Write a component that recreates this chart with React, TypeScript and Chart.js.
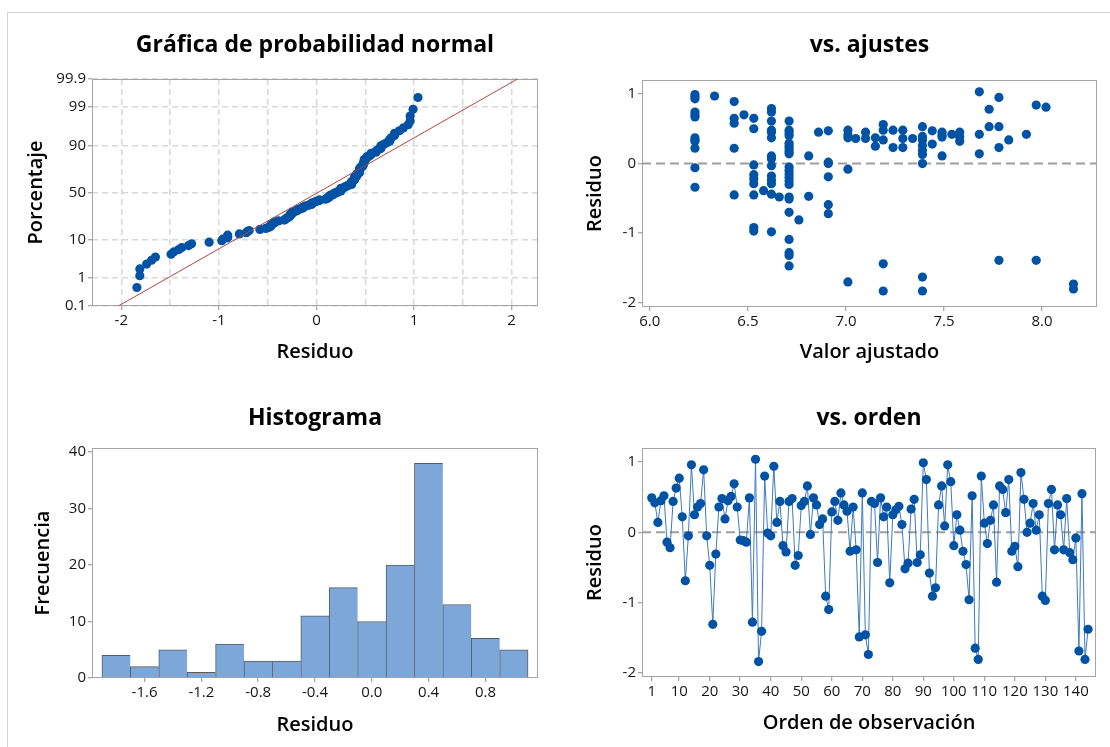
import React, { useEffect, useRef } from "react";
import { Chart, registerables } from "chart.js";

Chart.register(...registerables);

// ---------------- data ----------------
// residuals in observation order (1..144)
const residuals: number[] = [
  0.49, 0.42, 0.14, 0.45, 0.52, -0.14, -0.22, 0.44, 0.63, 0.77,
  0.22, -0.69, -0.05, 0.96, 0.25, 0.36, 0.41, 0.89, -0.05, -0.47,
  -1.31, -0.31, 0.36, 0.48, 0.19, 0.45, 0.51, 0.69, 0.36, -0.11,
  -0.12, -0.14, 0.49, -1.28, 1.04, -1.84, -1.41, 0.8, -0.01, -0.05,
  0.94, 0.14, 0.44, -0.19, -0.28, 0.44, 0.48, -0.47, -0.33, 0.38,
  0.44, 0.66, -0.03, 0.49, 0.39, 0.11, 0.19, -0.91, -1.1, 0.29,
  0.44, 0.17, 0.56, 0.39, 0.3, -0.27, 0.36, -0.25, -1.49, 0.56,
  -1.46, -1.74, 0.44, 0.41, -0.43, 0.49, 0.22, 0.36, -0.72, 0.25,
  0.32, 0.37, 0.11, -0.52, -0.44, 0.33, 0.47, -0.43, -0.32, 0.99,
  0.75, -0.58, -0.91, -0.79, 0.39, 0.66, 0.09, 0.96, 0.72, -0.19,
  0.25, 0.03, -0.27, -0.46, -0.96, 0.52, -1.65, -1.81, 0.8, 0.13,
  -0.16, 0.17, 0.39, -0.71, 0.66, 0.61, 0.28, 0.75, -0.27, -0.2,
  -0.49, 0.85, 0.47, 0.0, 0.13, 0.41, 0.03, 0.25, -0.91, -0.97,
  0.41, 0.61, -0.25, 0.39, 0.25, -0.25, 0.48, -0.29, -0.39, -0.08,
  -1.69, 0.55, -1.81, -1.38,
];

// vs. fits: fitted value levels and the residuals plotted at each level
const fitLevels: number[] = [
  6.23, 6.33, 6.43, 6.48, 6.53, 6.58, 6.62, 6.66, 6.71, 6.76, 6.81, 6.86,
  6.91, 7.01, 7.05, 7.1, 7.15, 7.19, 7.24, 7.29, 7.34, 7.39, 7.44, 7.49,
  7.54, 7.58, 7.68, 7.73, 7.78, 7.83, 7.92, 7.97, 8.02, 8.16,
];
const fitResidualsByLevel: number[][] = [
  [0.99, 0.96, 0.93, 0.74, 0.7, 0.67, 0.37, 0.34, 0.32, 0.22, -0.06, -0.34],
  [0.97],
  [0.89, 0.65, 0.58, 0.22, -0.45],
  [0.7],
  [0.65, 0.5, -0.02, -0.16, -0.22, -0.29, -0.45, -0.92, -0.97],
  [-0.39],
  [0.79, 0.74, 0.61, 0.48, 0.45, 0.37, 0.11, 0.07, -0.03, -0.18, -0.24, -0.29, -0.44, -0.98],
  [-0.48],
  [0.61, 0.48, 0.44, 0.4, 0.29, 0.25, 0.21, 0.17, 0.14, -0.05, -0.1, -0.15, -0.2, -0.25, -0.3, -0.48, -0.51, -0.7, -1.09, -1.28, -1.32, -1.47],
  [-0.81],
  [0.11, -0.47],
  [0.45],
  [0.47, 0.02, 0.0, -0.19, -0.59, -0.72],
  [0.48, 0.41, 0.37, -0.08, -1.7],
  [0.36],
  [0.45, 0.36],
  [0.37, 0.25],
  [0.56, 0.48, 0.34, -1.44, -1.83],
  [0.48, 0.23],
  [0.48, 0.36, 0.23],
  [0.36],
  [0.53, 0.39, 0.34, 0.26, 0.19, 0.13, 0.0, -1.63, -1.83],
  [0.47, 0.28],
  [0.45, 0.41, 0.38, 0.11],
  [0.42],
  [0.45, 0.38, 0.32],
  [1.03, 0.42, 0.14],
  [0.78, 0.53],
  [0.95, 0.53, 0.23, -1.39],
  [0.34],
  [0.42],
  [0.84, -1.39],
  [0.81],
  [-1.73, -1.8],
];

// histogram
const histBinCenters: number[] = [-1.8, -1.6, -1.4, -1.2, -1.0, -0.8, -0.6, -0.4, -0.2, 0.0, 0.2, 0.4, 0.6, 0.8, 1.0];
const histCounts: number[] = [4, 2, 5, 1, 6, 3, 3, 11, 16, 10, 20, 38, 13, 7, 5];

// normal reference line of the probability plot (residual at 0.1 % and 99.9 %)
const refLineResidual: number[] = [-2.03, 2.06];
const refLinePercent: number[] = [0.1, 99.9];

// tick values / labels
const probPercentTicks: number[] = [0.1, 1, 10, 50, 90, 99, 99.9];
const probXTicks: number[] = [-2, -1.5, -1, -0.5, 0, 0.5, 1, 1.5, 2];
const fitXTicks: number[] = [6.0, 6.5, 7.0, 7.5, 8.0];
const residTicks: number[] = [-2, -1, 0, 1];
const orderTicks: number[] = [1, 10, 20, 30, 40, 50, 60, 70, 80, 90, 100, 110, 120, 130, 140];
const histXTicks: number[] = [-1.6, -1.2, -0.8, -0.4, 0.0, 0.4, 0.8];
const histYTicks: number[] = [0, 10, 20, 30, 40];

// ---------------- style ----------------
const FONT = "'Open Sans', 'Noto Sans', sans-serif";
const TEXT = "#151515";
const FRAME_COLOR = "#a4a4a4";
const TICK_COLOR = "#8c8c8c";
const POINT_COLOR = "#0053a4";
const ORDER_LINE = "#3d79c2";
const REF_DASH = "#9e9e9e";
const FIT_LINE = "#b5453d";
const PROB_GRID = "#d8d8d8";
const BAR_FILL = "#7ea7d9";
const BAR_EDGE = "#545c67";
const TITLE_SIZE = 23;
const AXIS_SIZE = 20;
const TICK_SIZE = 15;

// inverse standard normal CDF (Acklam)
function normInv(p: number): number {
  const a = [-39.69683028665376, 220.9460984245205, -275.9285104469687, 138.357751867269, -30.66479806614716, 2.506628277459239];
  const b = [-54.47609879822406, 161.5858368580409, -155.6989798598866, 66.80131188771972, -13.28068155288572];
  const c = [-0.007784894002430293, -0.3223964580411365, -2.400758277161838, -2.549732539343734, 4.374664141464968, 2.938163982698783];
  const d = [0.007784695709041462, 0.3224671290700398, 2.445134137142996, 3.754408661907416];
  const pl = 0.02425;
  if (p < pl) {
    const q = Math.sqrt(-2 * Math.log(p));
    return (((((c[0] * q + c[1]) * q + c[2]) * q + c[3]) * q + c[4]) * q + c[5]) / ((((d[0] * q + d[1]) * q + d[2]) * q + d[3]) * q + 1);
  }
  if (p <= 1 - pl) {
    const q = p - 0.5;
    const r = q * q;
    return ((((((a[0] * r + a[1]) * r + a[2]) * r + a[3]) * r + a[4]) * r + a[5]) * q) / (((((b[0] * r + b[1]) * r + b[2]) * r + b[3]) * r + b[4]) * r + 1);
  }
  const q = Math.sqrt(-2 * Math.log(1 - p));
  return -(((((c[0] * q + c[1]) * q + c[2]) * q + c[3]) * q + c[4]) * q + c[5]) / ((((d[0] * q + d[1]) * q + d[2]) * q + d[3]) * q + 1);
}

type Panel = {
  left: number; top: number; width: number; height: number;
  area: { l: number; r: number; t: number; b: number };
  titleY: number; xTitleY: number; yTitleX: number;
};

const P_PROB: Panel = { left: 0, top: 0, width: 555, height: 375, area: { l: 92, r: 538, t: 79, b: 306 }, titleY: 45, xTitleY: 352, yTitleX: 36 };
const P_FITS: Panel = { left: 555, top: 0, width: 555, height: 375, area: { l: 87, r: 542, t: 80, b: 307 }, titleY: 45, xTitleY: 352, yTitleX: 40 };
const P_HIST: Panel = { left: 0, top: 375, width: 555, height: 372, area: { l: 92, r: 538, t: 73, b: 303 }, titleY: 43, xTitleY: 350, yTitleX: 43 };
const P_ORDER: Panel = { left: 555, top: 375, width: 555, height: 372, area: { l: 87, r: 541, t: 73, b: 302 }, titleY: 43, xTitleY: 348, yTitleX: 40 };

const framePlugin = {
  id: "frame",
  beforeDatasetsDraw(chart: any) {
    const { ctx, chartArea: a } = chart;
    ctx.save();
    ctx.strokeStyle = FRAME_COLOR;
    ctx.lineWidth = 1;
    ctx.setLineDash([]);
    const l = Math.round(a.left), t = Math.round(a.top), r = Math.round(a.right), b = Math.round(a.bottom);
    ctx.strokeRect(l + 0.5, t + 0.5, r - l - 1, b - t - 1);
    ctx.restore();
  },
};

function titleOpts(p: Panel, text: string) {
  const lh = TITLE_SIZE * 1.2;
  return {
    display: true,
    fullSize: false,
    text,
    color: "#000",
    font: { family: FONT, size: TITLE_SIZE, weight: "bold" as const },
    padding: { top: p.titleY - lh / 2, bottom: p.area.t - p.titleY - lh / 2 },
  };
}

type AxisOpts = {
  min: number; max: number; ticks: number[]; labels: string[]; title: string;
  gridDash?: number[]; tickColor?: any;
};

function xAxis(p: Panel, o: AxisOpts): any {
  return {
    type: "linear",
    position: "bottom",
    min: o.min,
    max: o.max,
    offset: false,
    afterBuildTicks: (s: any) => { s.ticks = o.ticks.map((v) => ({ value: v })); },
    afterFit: (s: any) => { s.height = p.height - p.area.b; },
    ticks: {
      font: { family: FONT, size: TICK_SIZE }, color: TEXT, padding: 2, autoSkip: false,
      maxRotation: 0, minRotation: 0, callback: (_v: any, i: number) => o.labels[i],
    },
    grid: {
      display: true, drawOnChartArea: !!o.gridDash, offset: false, color: PROB_GRID, lineWidth: 1.5,
      drawTicks: true, tickLength: 4, tickColor: o.tickColor || TICK_COLOR, tickWidth: 1,
    },
    border: { display: false, dash: o.gridDash || [] },
    title: {
      display: true, text: o.title, color: "#000",
      font: { family: FONT, size: AXIS_SIZE, weight: "600" },
      padding: { top: 0, bottom: p.height - p.xTitleY - AXIS_SIZE * 0.6 },
    },
  };
}

function yAxis(p: Panel, o: AxisOpts): any {
  return {
    type: "linear",
    position: "left",
    min: o.min,
    max: o.max,
    afterBuildTicks: (s: any) => { s.ticks = o.ticks.map((v) => ({ value: v })); },
    afterFit: (s: any) => { s.width = p.area.l; },
    ticks: {
      font: { family: FONT, size: TICK_SIZE }, color: TEXT, padding: 2, autoSkip: false,
      callback: (_v: any, i: number) => o.labels[i],
    },
    grid: {
      display: true, drawOnChartArea: !!o.gridDash, color: PROB_GRID, lineWidth: 1.5,
      drawTicks: true, tickLength: 4, tickColor: TICK_COLOR, tickWidth: 1,
    },
    border: { display: false, dash: o.gridDash || [] },
    title: {
      display: true, text: o.title, color: "#000",
      font: { family: FONT, size: AXIS_SIZE, weight: "600" },
      padding: { top: p.yTitleX - AXIS_SIZE * 0.6, bottom: 0 },
    },
  };
}

function baseOptions(p: Panel, title: string, scales: any): any {
  return {
    responsive: false,
    animation: false,
    devicePixelRatio: 1,
    events: [],
    layout: { padding: { left: 0, top: 0, right: p.width - p.area.r, bottom: 0 } },
    plugins: { legend: { display: false }, tooltip: { enabled: false }, title: titleOpts(p, title) },
    scales,
  };
}

const residLabels = residTicks.map((v) => String(v));
const RESID_MIN = -2.06;
const RESID_MAX = 1.2;

function probConfig(): any {
  const sorted = [...residuals].sort((a, b) => a - b);
  const n = sorted.length;
  const pts = sorted.map((r, i) => ({ x: r, y: normInv((i + 1 - 0.3) / (n + 0.4)) }));
  const line = refLineResidual.map((r, i) => ({ x: r, y: normInv(refLinePercent[i] / 100) }));
  const zTicks = probPercentTicks.map((pc) => normInv(pc / 100));
  return {
    type: "scatter",
    data: {
      datasets: [
        { data: line, showLine: true, borderColor: FIT_LINE, borderWidth: 1, pointRadius: 0 },
        { data: pts, pointRadius: 4.6, pointBackgroundColor: POINT_COLOR, pointBorderWidth: 0, showLine: false },
      ],
    },
    options: baseOptions(P_PROB, "Gráfica de probabilidad normal", {
      x: xAxis(P_PROB, {
        min: -2.3, max: 2.27, ticks: probXTicks,
        labels: probXTicks.map((v) => (Number.isInteger(v) ? String(v) : "")),
        title: "Residuo", gridDash: [6, 4],
        tickColor: (ctx: any) => (ctx.tick && Number.isInteger(ctx.tick.value) ? TICK_COLOR : "rgba(0,0,0,0)"),
      }),
      y: yAxis(P_PROB, {
        min: normInv(0.001), max: normInv(0.999), ticks: zTicks,
        labels: probPercentTicks.map((v) => String(v)), title: "Porcentaje", gridDash: [6, 4],
      }),
    }),
    plugins: [framePlugin],
  };
}

const FIT_X_MIN = 5.96;
const FIT_X_MAX = 8.28;

function fitsConfig(): any {
  const pts: { x: number; y: number }[] = [];
  fitLevels.forEach((f, i) => fitResidualsByLevel[i].forEach((r) => pts.push({ x: f, y: r })));
  return {
    type: "scatter",
    data: {
      datasets: [
        { data: pts, pointRadius: 4.6, pointBackgroundColor: POINT_COLOR, pointBorderWidth: 0 },
        { data: [{ x: FIT_X_MIN, y: 0 }, { x: FIT_X_MAX, y: 0 }], showLine: true, borderColor: REF_DASH, borderWidth: 2, borderDash: [9, 5], pointRadius: 0 },
      ],
    },
    options: baseOptions(P_FITS, "vs. ajustes", {
      x: xAxis(P_FITS, { min: FIT_X_MIN, max: FIT_X_MAX, ticks: fitXTicks, labels: fitXTicks.map((v) => v.toFixed(1)), title: "Valor ajustado" }),
      y: yAxis(P_FITS, { min: RESID_MIN, max: RESID_MAX, ticks: residTicks, labels: residLabels, title: "Residuo" }),
    }),
    plugins: [framePlugin],
  };
}

function histConfig(): any {
  const last = histCounts.length - 1;
  return {
    type: "bar",
    data: {
      datasets: [
        {
          data: histBinCenters.map((c, i) => ({ x: c, y: histCounts[i] })),
          backgroundColor: BAR_FILL,
          borderColor: BAR_EDGE,
          borderWidth: (ctx: any) => ({ top: 1, left: 1, bottom: 0, right: ctx.dataIndex === last ? 1 : 0 }),
          borderSkipped: false,
          barPercentage: 1,
          categoryPercentage: 1,
        },
      ],
    },
    options: baseOptions(P_HIST, "Histograma", {
      x: xAxis(P_HIST, { min: -1.97, max: 1.17, ticks: histXTicks, labels: histXTicks.map((v) => v.toFixed(1)), title: "Residuo" }),
      y: yAxis(P_HIST, { min: 0, max: 40.7, ticks: histYTicks, labels: histYTicks.map((v) => String(v)), title: "Frecuencia" }),
    }),
    plugins: [framePlugin],
  };
}

const ORDER_X_MIN = -2.2;
const ORDER_X_MAX = 146.6;

function orderConfig(): any {
  const pts = residuals.map((r, i) => ({ x: i + 1, y: r }));
  return {
    type: "scatter",
    data: {
      datasets: [
        { data: pts, showLine: true, borderColor: ORDER_LINE, borderWidth: 1, pointRadius: 4.6, pointBackgroundColor: POINT_COLOR, pointBorderWidth: 0 },
        { data: [{ x: ORDER_X_MIN, y: 0 }, { x: ORDER_X_MAX, y: 0 }], showLine: true, borderColor: REF_DASH, borderWidth: 2, borderDash: [9, 5], pointRadius: 0 },
      ],
    },
    options: baseOptions(P_ORDER, "vs. orden", {
      x: xAxis(P_ORDER, { min: ORDER_X_MIN, max: ORDER_X_MAX, ticks: orderTicks, labels: orderTicks.map((v) => String(v)), title: "Orden de observación" }),
      y: yAxis(P_ORDER, { min: RESID_MIN, max: RESID_MAX, ticks: residTicks, labels: residLabels, title: "Residuo" }),
    }),
    plugins: [framePlugin],
  };
}

function ChartPanel({ panel, make }: { panel: Panel; make: () => any }) {
  const ref = useRef<HTMLCanvasElement | null>(null);
  useEffect(() => {
    if (!ref.current) return;
    const chart = new Chart(ref.current, make());
    return () => chart.destroy();
  }, []);
  return (
    <canvas
      ref={ref}
      width={panel.width}
      height={panel.height}
      style={{ position: "absolute", left: panel.left, top: panel.top, width: panel.width, height: panel.height }}
    />
  );
}

export default function App() {
  return (
    <div style={{ position: "absolute", left: 0, top: 0, width: 1110, height: 747, overflow: "hidden", background: "#fff" }}>
      <div style={{ position: "absolute", left: 7, top: 12, width: 1200, height: 900, border: "1px solid #d3d3d3" }} />
      <ChartPanel panel={P_PROB} make={probConfig} />
      <ChartPanel panel={P_FITS} make={fitsConfig} />
      <ChartPanel panel={P_HIST} make={histConfig} />
      <ChartPanel panel={P_ORDER} make={orderConfig} />
    </div>
  );
}
